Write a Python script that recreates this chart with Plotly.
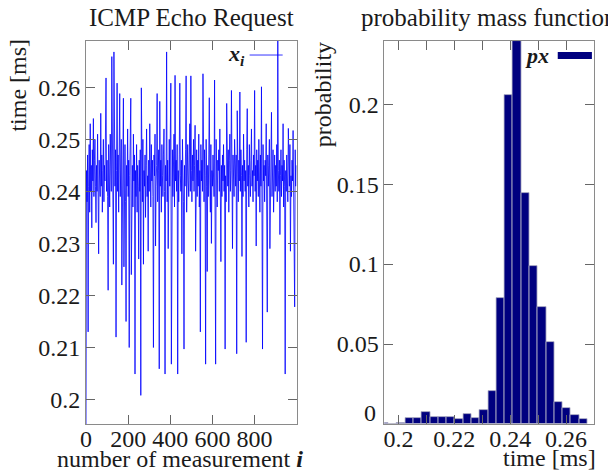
import numpy as np
import plotly.graph_objects as go

# ---- data: ICMP echo request times (ms) ----
xi_values = [
    0.1953, 0.244, 0.238, 0.247, 0.213, 0.241, 0.249, 0.236, 0.253, 0.240, 0.245, 0.233, 0.248, 0.242, 0.254, 0.239, 0.246, 0.250, 0.241, 0.234,
    0.245, 0.240, 0.251, 0.237, 0.228, 0.246, 0.243, 0.239, 0.255, 0.241, 0.247, 0.236, 0.244, 0.250, 0.238, 0.245, 0.242, 0.248, 0.2618, 0.240,
    0.246, 0.239, 0.221, 0.249, 0.242, 0.237, 0.251, 0.244, 0.240, 0.2659, 0.243, 0.238, 0.226, 0.2668, 0.245, 0.241, 0.248, 0.212, 0.244, 0.2608,
    0.240, 0.247, 0.236, 0.243, 0.2588, 0.239, 0.245, 0.250, 0.222, 0.242, 0.246, 0.2579, 0.2255, 0.244, 0.249, 0.238, 0.215, 0.245, 0.241, 0.252,
    0.239, 0.246, 0.210, 0.243, 0.248, 0.2579, 0.224, 0.240, 0.245, 0.237, 0.251, 0.242, 0.247, 0.2049, 0.244, 0.239, 0.249, 0.236, 0.245, 0.241,
    0.227, 0.246, 0.240, 0.248, 0.2008, 0.2599, 0.243, 0.238, 0.250, 0.226, 0.244, 0.241, 0.247, 0.235, 0.245, 0.252, 0.239, 0.243, 0.2285, 0.246,
    0.240, 0.253, 0.244, 0.237, 0.249, 0.242, 0.246, 0.239, 0.210, 0.247, 0.243, 0.251, 0.2295, 0.241, 0.245, 0.2588, 0.238, 0.244, 0.248, 0.2059,
    0.2573, 0.241, 0.246, 0.236, 0.249, 0.243, 0.239, 0.247, 0.252, 0.240, 0.2049, 0.245, 0.242, 0.2668, 0.238, 0.246, 0.229, 0.244, 0.250, 0.241,
    0.247, 0.2608, 0.2068, 0.243, 0.248, 0.239, 0.245, 0.251, 0.237, 0.2623, 0.242, 0.246, 0.240, 0.249, 0.2049, 0.244, 0.238, 0.247, 0.2608, 0.243,
    0.240, 0.246, 0.228, 0.250, 0.243, 0.238, 0.2097, 0.245, 0.241, 0.248, 0.2622, 0.236, 0.244, 0.249, 0.242, 0.239, 0.247, 0.253, 0.240, 0.2622,
    0.244, 0.238, 0.247, 0.242, 0.250, 0.240, 0.245, 0.2527, 0.2285, 0.243, 0.248, 0.239, 0.246, 0.241, 0.251, 0.237, 0.244, 0.213, 0.249, 0.242,
    0.246, 0.240, 0.2626, 0.244, 0.238, 0.248, 0.243, 0.2068, 0.250, 0.241, 0.2246, 0.245, 0.239, 0.247, 0.258, 0.242, 0.236, 0.249, 0.230, 0.244,
    0.241, 0.247, 0.243, 0.239, 0.2614, 0.245, 0.2068, 0.250, 0.242, 0.237, 0.246, 0.244, 0.248, 0.240, 0.252, 0.243, 0.2265, 0.245, 0.239, 0.247,
    0.242, 0.249, 0.240, 0.245, 0.2097, 0.243, 0.238, 0.2569, 0.244, 0.241, 0.248, 0.236, 0.246, 0.251, 0.240, 0.244, 0.2594, 0.242, 0.229, 0.247,
    0.243, 0.239, 0.250, 0.245, 0.241, 0.247, 0.2088, 0.2555, 0.244, 0.238, 0.246, 0.242, 0.2591, 0.240, 0.248, 0.243, 0.2275, 0.245, 0.239, 0.251,
    0.242, 0.246, 0.240, 0.244, 0.211, 0.248, 0.2559, 0.241, 0.245, 0.237, 0.249, 0.243, 0.239, 0.246, 0.252, 0.241, 0.244, 0.238, 0.247, 0.243,
    0.2594, 0.240, 0.245, 0.2295, 0.248, 0.242, 0.246, 0.239, 0.250, 0.243, 0.236, 0.247, 0.241, 0.2601, 0.244, 0.2097, 0.249, 0.242, 0.245, 0.238,
    0.246, 0.243, 0.253, 0.240, 0.2168, 0.247, 0.241, 0.245, 0.250, 0.229, 0.242, 0.246, 0.2552, 0.239, 0.244, 0.248, 0.236, 0.243, 0.247, 0.240,
    0.245, 0.241, 0.249, 0.238, 0.2689, 0.244, 0.240, 0.246, 0.2317, 0.243, 0.248, 0.239, 0.245, 0.242, 0.253, 0.237, 0.246, 0.241, 0.2049, 0.244,
    0.240, 0.247, 0.243, 0.238, 0.2521, 0.245, 0.241, 0.249, 0.2285, 0.243, 0.239, 0.246, 0.242, 0.2517, 0.240, 0.244, 0.2178, 0.248, 0.241, 0.245,
]
measurement_step = 2.5          # measurement index spacing of the listed samples
xi_index = np.arange(len(xi_values)) * measurement_step

# ---- data: probability mass function ----
bin_start = 0.195
bin_width = 0.002966
px_values = [0.0006, 0.0, 0.0009, 0.0036, 0.004, 0.0077, 0.0046, 0.0046, 0.0046, 0.003,
             0.0065, 0.004, 0.0086, 0.0206, 0.079, 0.206, 0.2395, 0.1446, 0.0988, 0.073,
             0.051, 0.0136, 0.0098, 0.0056, 0.003]
px_centers = bin_start + np.arange(len(px_values)) * bin_width

left_xticks = [0, 200, 400, 600, 800]
left_yticks = [0.2, 0.21, 0.22, 0.23, 0.24, 0.25, 0.26]
right_xticks = [0.2, 0.22, 0.24, 0.26]
right_yticks = [0.05, 0.1, 0.15, 0.2]

FONT = "Liberation Serif"
AXCOL = "#8a8a8a"
TXT = "#1a1a1a"
LINECOL = "rgba(0,0,255,0.8)"

fig = go.Figure()
fig.add_trace(go.Scatter(x=xi_index, y=xi_values, mode="lines",
                         line=dict(color=LINECOL, width=1),
                         xaxis="x", yaxis="y", showlegend=False))
fig.add_trace(go.Bar(x=px_centers, y=px_values, width=bin_width,
                     marker=dict(color="#00007f", line=dict(color="#b8b8c8", width=0.8)),
                     xaxis="x2", yaxis="y2", showlegend=False))

common = dict(showline=True, linecolor=AXCOL, linewidth=1, mirror="ticks",
              ticks="inside", ticklen=9, tickcolor="#666", showgrid=False,
              zeroline=False, automargin=False,
              tickfont=dict(family=FONT, size=24, color=TXT))

# page body has an 8px default margin: the figure is offset by 8px right and down
fig.update_layout(
    template="none",
    width=608, height=465,
    margin=dict(l=78, r=22, t=33, b=49, autoexpand=False),
    plot_bgcolor="white", paper_bgcolor="white",
    bargap=0,
    xaxis=dict(domain=[0, 0.4145], range=[0, 999], tickvals=left_xticks, anchor="y",
               ticklabelstandoff=-7, **common),
    yaxis=dict(domain=[0, 1], range=[0.1953, 0.2689], tickvals=left_yticks, anchor="x", **common),
    xaxis2=dict(domain=[0.5875, 1], range=[0.195, 0.27], tickvals=right_xticks, anchor="y2",
                ticklabelstandoff=-7,
                minor=dict(dtick=0.01, tick0=0.2, ticks="inside", ticklen=9, tickcolor="#666"),
                **common),
    yaxis2=dict(domain=[0, 1], range=[0, 0.2395], tickvals=right_yticks, anchor="x2", **common),
)

def ann(text, x, y, xref, yref, size=24, angle=0, xanchor="center", yanchor="middle"):
    fig.add_annotation(text=text, x=x, y=y, xref=xref, yref=yref, showarrow=False,
                       textangle=angle, xanchor=xanchor, yanchor=yanchor,
                       font=dict(family=FONT, size=size, color=TXT))

# titles
ann("ICMP Echo Request", 0.5, 1.062, "x domain", "y domain", size=25)
ann("probability mass function", 0.5, 1.062, "x2 domain", "y2 domain", size=25)
# axis titles
ann("number of measurement <b><i>i</i></b>", 0.445, -0.092, "x domain", "y domain")
ann("time [ms]", -0.325, 0.885, "x domain", "y domain", angle=-90)
ann("time [ms]", 0.79, -0.09, "x2 domain", "y2 domain")
ann("probability", -0.295, 0.86, "x2 domain", "y2 domain", angle=-90)
# zero label of right y axis
ann("0", -0.03, 0.028, "x2 domain", "y2 domain", xanchor="right")

# legends (gnuplot style: label then sample)
ann("<b><i>x<sub>i</sub></i></b>", 0.765, 0.963, "x domain", "y domain", size=22, xanchor="right")
fig.add_shape(type="line", xref="x domain", yref="y domain", x0=0.777, x1=0.934, y0=0.9634, y1=0.9634,
              line=dict(color=LINECOL, width=1))
ann("<b><i>px</i></b>", 0.795, 0.962, "x2 domain", "y2 domain", size=22, xanchor="right")
fig.add_shape(type="rect", xref="x2 domain", yref="y2 domain", x0=0.827, x1=0.99, y0=0.953, y1=0.971,
              fillcolor="#00007f", line=dict(width=0))

fig.write_html("out.html")
